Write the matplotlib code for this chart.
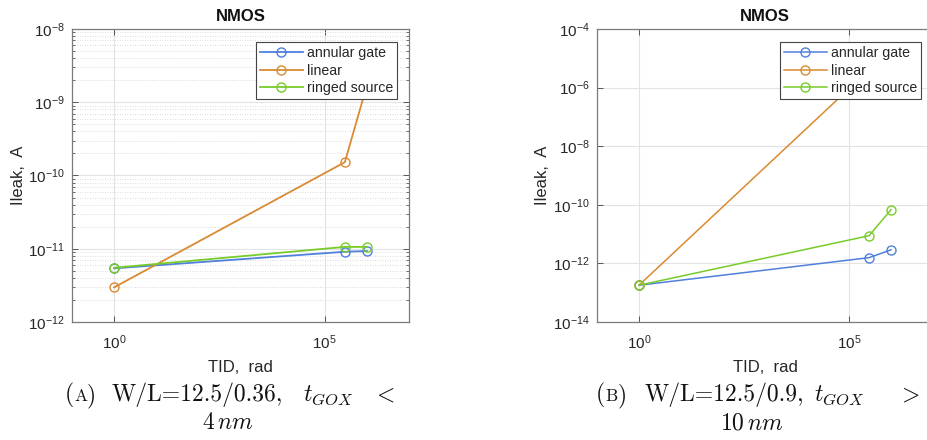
import matplotlib
matplotlib.use("Agg")
import matplotlib.pyplot as plt
import numpy as np
from matplotlib.ticker import FixedLocator, NullLocator, NullFormatter

plt.rcParams['font.family'] = ['Liberation Sans', 'DejaVu Sans']
plt.rcParams['mathtext.fontset'] = 'custom'
plt.rcParams['mathtext.rm'] = 'Liberation Sans'
plt.rcParams['mathtext.it'] = 'Liberation Sans:italic'
plt.rcParams['mathtext.bf'] = 'Liberation Sans:bold'

# ---- data ----
tid = [1, 3e5, 1e6]
series_names = ["annular gate", "linear", "ringed source"]
left_annular = [5.4e-12, 9.1e-12, 9.3e-12]
left_linear = [2.97e-12, 1.52e-10, 1.7e-9]
left_ringed = [5.5e-12, 1.06e-11, 1.06e-11]
right_annular = [1.8e-13, 1.57e-12, 2.9e-12]
right_linear = [1.8e-13, 4e-6, 1e-5]
right_ringed = [1.8e-13, 8.8e-12, 6.8e-11]
left_yticks = [-12, -11, -10, -9, -8]
right_yticks = [-14, -12, -10, -8, -6, -4]
xticks = [0, 5]
title = "NMOS"
xlabel = "TID,  rad"
ylabel = "Ileak,  A"

colors = ['#4f80dc', '#d98a32', '#78cc2a']

W, H = 928, 440
fig = plt.figure(figsize=(W / 100, H / 100), dpi=100)

def px_axes(l, t, r, b):
    return fig.add_axes([l / W, 1 - b / H, (r - l) / W, (b - t) / H])

axL = px_axes(72, 29, 409, 322)
axR = px_axes(597, 29, 933, 322)

def style(ax, series, yexp, minor, lw):
    for name, ys, c in zip(series_names, series, colors):
        ax.plot(tid, ys, '-o', color=c, lw=lw, ms=6.5, mfc='none', mec=c, mew=1.0, label=name)
    ax.set_xscale('log')
    ax.set_yscale('log')
    ax.set_xlim(0.1, 1e7)
    ax.set_ylim(10.0 ** yexp[0], 10.0 ** yexp[-1])
    ax.xaxis.set_major_locator(FixedLocator([10.0 ** e for e in xticks]))
    ax.set_xticklabels([r'$\mathregular{10^{%d}}$' % e for e in xticks])
    ax.xaxis.set_minor_locator(NullLocator())
    ax.yaxis.set_major_locator(FixedLocator([10.0 ** e for e in yexp]))
    ax.set_yticklabels([r'$\mathregular{10^{%d}}$' % e for e in yexp])
    if minor:
        mins = [m * 10.0 ** e for e in yexp[:-1] for m in range(2, 10)]
        ax.yaxis.set_minor_locator(FixedLocator(mins))
        ax.yaxis.set_minor_formatter(NullFormatter())
        ax.grid(True, which='minor', axis='y', color='#d0d0d0', ls=(0, (1, 2)), lw=0.6)
    else:
        ax.yaxis.set_minor_locator(NullLocator())
    ax.grid(True, which='major', color='#e3e3e3', ls='-', lw=0.8)
    ax.set_axisbelow(True)
    for s in ax.spines.values():
        s.set_color('#7a7a7a')
        s.set_linewidth(0.9)
    ax.tick_params(which='both', direction='in', top=True, right=True, color='#555555',
                   labelsize=11, labelcolor='#262626')
    ax.tick_params(which='major', length=4.5, width=0.7)
    ax.tick_params(which='minor', length=2.5, width=0.6)
    ax.tick_params(axis='x', pad=8)
    ax.tick_params(axis='y', pad=5)
    ax.set_title(title, fontsize=12, fontweight='bold', color='#111111', pad=6)
    ax.set_xlabel(xlabel, fontsize=12, color='#262626', labelpad=6)
    ax.set_ylabel(ylabel, fontsize=12, color='#262626', labelpad=2)
    leg = ax.legend(loc='upper right', bbox_to_anchor=(1 - 12 / 337, 1 - 13 / 293),
                    fontsize=10.2, handlelength=3.0, handletextpad=0.3, labelspacing=0.26,
                    borderpad=0.28, borderaxespad=0.0, fancybox=False, framealpha=1,
                    edgecolor='#444444')
    leg.get_frame().set_linewidth(0.8)
    for t in leg.get_texts():
        t.set_color('#262626')

style(axL, [left_annular, left_linear, left_ringed], left_yticks, True, 1.3)
style(axR, [right_annular, right_linear, right_ringed], right_yticks, False, 1.1)

# captions
cap = dict(family=['cmr10', 'DejaVu Serif'], math_fontfamily='cm', fontsize=17, color='#111111', va='baseline')
def ftext(x, y, s, ha='left', **kw):
    d = dict(cap); d.update(kw)
    fig.text(x / W, 1 - y / H, s, ha=ha, **d)

def label(xr, y, letter):
    # small-caps style label "(A)"
    fig.text(xr / W, 1 - y / H, ")", ha='right', **cap)
    fig.text((xr - 9) / W, 1 - y / H, letter, ha='right', **dict(cap, fontsize=12.5))
    fig.text((xr - 22) / W, 1 - y / H, "(", ha='right', **cap)

label(96, 401, "A")
ftext(112, 401, "W/L=12.5/0.36,")
ftext(303, 401, r"$t_{GOX}$")
ftext(395, 401, r"$<$", ha='right')
ftext(228, 429, r"$4\,nm$", ha='center')

label(627, 401, "B")
ftext(645, 401, "W/L=12.5/0.9,")
ftext(814, 401, r"$t_{GOX}$")
ftext(920, 401, r"$>$", ha='right')
ftext(752, 429, r"$10\,nm$", ha='center')

fig.savefig("out.png", dpi=100)
